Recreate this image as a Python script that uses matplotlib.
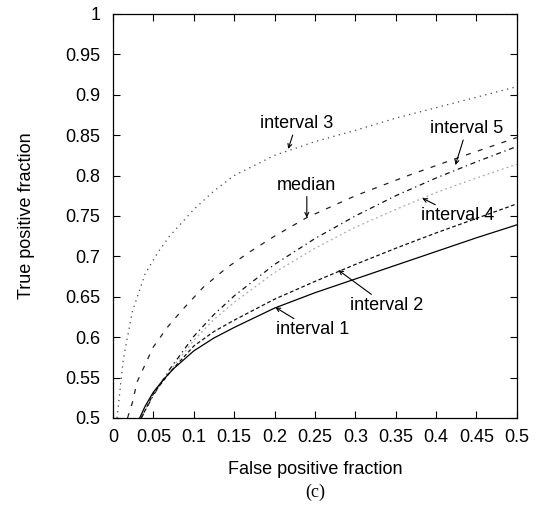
import matplotlib
matplotlib.use("Agg")
import matplotlib.pyplot as plt

# ROC curves (false positive fraction, true positive fraction)
fpf_int1 = [0.033, 0.04, 0.05, 0.062, 0.075, 0.1, 0.125, 0.15, 0.2, 0.25, 0.3, 0.35, 0.4, 0.45, 0.5]
tpf_int1 = [0.5, 0.515, 0.532, 0.547, 0.561, 0.583, 0.599, 0.612, 0.636, 0.655, 0.672, 0.689, 0.706, 0.723, 0.739]

fpf_int2 = [0.035, 0.05, 0.07, 0.1, 0.125, 0.15, 0.2, 0.25, 0.3, 0.35, 0.4, 0.45, 0.5]
tpf_int2 = [0.5, 0.53, 0.556, 0.589, 0.607, 0.621, 0.647, 0.669, 0.69, 0.71, 0.729, 0.747, 0.765]

fpf_int3 = [0.005, 0.013, 0.024, 0.04, 0.055, 0.07, 0.1, 0.125, 0.15, 0.2, 0.25, 0.3, 0.35, 0.4, 0.45, 0.5]
tpf_int3 = [0.5, 0.574, 0.632, 0.679, 0.704, 0.725, 0.758, 0.781, 0.8, 0.825, 0.842, 0.856, 0.871, 0.884, 0.897, 0.91]

fpf_int4 = [0.035, 0.05, 0.07, 0.1, 0.125, 0.15, 0.2, 0.25, 0.3, 0.35, 0.4, 0.45, 0.5]
tpf_int4 = [0.5, 0.53, 0.558, 0.596, 0.622, 0.643, 0.68, 0.71, 0.736, 0.758, 0.779, 0.797, 0.814]

fpf_int5 = [0.035, 0.05, 0.07, 0.1, 0.125, 0.15, 0.2, 0.25, 0.3, 0.35, 0.4, 0.45, 0.5]
tpf_int5 = [0.5, 0.528, 0.56, 0.601, 0.628, 0.651, 0.69, 0.722, 0.75, 0.775, 0.797, 0.817, 0.836]

fpf_median = [0.018, 0.024, 0.03, 0.05, 0.068, 0.086, 0.112, 0.141, 0.17, 0.2, 0.24, 0.3, 0.368, 0.43, 0.5]
tpf_median = [0.5, 0.519, 0.545, 0.588, 0.613, 0.634, 0.662, 0.686, 0.706, 0.725, 0.748, 0.775, 0.801, 0.823, 0.847]

ticks = [0, 0.05, 0.1, 0.15, 0.2, 0.25, 0.3, 0.35, 0.4, 0.45, 0.5]
yticks = [0.5, 0.55, 0.6, 0.65, 0.7, 0.75, 0.8, 0.85, 0.9, 0.95, 1]
tick_labels_x = ["0", "0.05", "0.1", "0.15", "0.2", "0.25", "0.3", "0.35", "0.4", "0.45", "0.5"]
tick_labels_y = ["0.5", "0.55", "0.6", "0.65", "0.7", "0.75", "0.8", "0.85", "0.9", "0.95", "1"]

plt.rcParams['font.family'] = ['Liberation Sans', 'DejaVu Sans']
FS = 13

fig = plt.figure(figsize=(5.44, 5.14), dpi=100)
ax = fig.add_axes([0.2077, 0.1868, 0.7423, 0.786])

ax.plot(fpf_int3, tpf_int3, color='#444444', lw=0.9, linestyle=(0, (1, 3.5)))
ax.plot(fpf_median, tpf_median, color='#222222', lw=0.9, linestyle=(0, (4, 6)))
ax.plot(fpf_int5, tpf_int5, color='#111111', lw=0.9, linestyle=(0, (4, 3, 1, 3)))
ax.plot(fpf_int4, tpf_int4, color='#aaaaaa', lw=0.9, linestyle=(0, (1.5, 2.5)))
ax.plot(fpf_int2, tpf_int2, color='#111111', lw=0.9, linestyle=(0, (3, 2)))
ax.plot(fpf_int1, tpf_int1, color='black', lw=0.9, linestyle='-')

ax.set_xlim(0, 0.5)
ax.set_ylim(0.5, 1)
ax.set_xticks(ticks)
ax.set_xticklabels(tick_labels_x)
ax.set_yticks(yticks)
ax.set_yticklabels(tick_labels_y)
ax.tick_params(direction='in', length=5, width=0.8, top=True, right=True,
               labelsize=FS)
ax.tick_params(axis='y', pad=9)
ax.tick_params(axis='x', pad=8)
for s in ax.spines.values():
    s.set_linewidth(0.9)

ax.set_xlabel('False positive fraction', fontsize=FS, labelpad=11)
ax.set_ylabel('True positive fraction', fontsize=FS, labelpad=22)

arrow = dict(arrowstyle='->', lw=0.8, color='black', shrinkA=0, shrinkB=0,
             mutation_scale=7)
ax.annotate('interval 3', xy=(0.217, 0.833), xytext=(0.227, 0.864),
            ha='center', va='center', fontsize=FS, arrowprops=arrow)
ax.annotate('median', xy=(0.24, 0.748), xytext=(0.24, 0.788),
            ha='center', va='center', fontsize=FS, arrowprops=arrow)
ax.annotate('interval 5', xy=(0.424, 0.813), xytext=(0.438, 0.858),
            ha='center', va='center', fontsize=FS, arrowprops=arrow)
ax.annotate('interval 4', xy=(0.383, 0.772), xytext=(0.427, 0.75),
            ha='center', va='center', fontsize=FS, arrowprops=arrow)
ax.annotate('interval 2', xy=(0.279, 0.683), xytext=(0.339, 0.639),
            ha='center', va='center', fontsize=FS, arrowprops=arrow)
ax.annotate('interval 1', xy=(0.201, 0.637), xytext=(0.247, 0.609),
            ha='center', va='center', fontsize=FS, arrowprops=arrow)

fig.text(0.579, 0.043, '(c)', ha='center', va='center', fontsize=FS,
         family='Liberation Serif')

fig.savefig('out.png', dpi=100)
